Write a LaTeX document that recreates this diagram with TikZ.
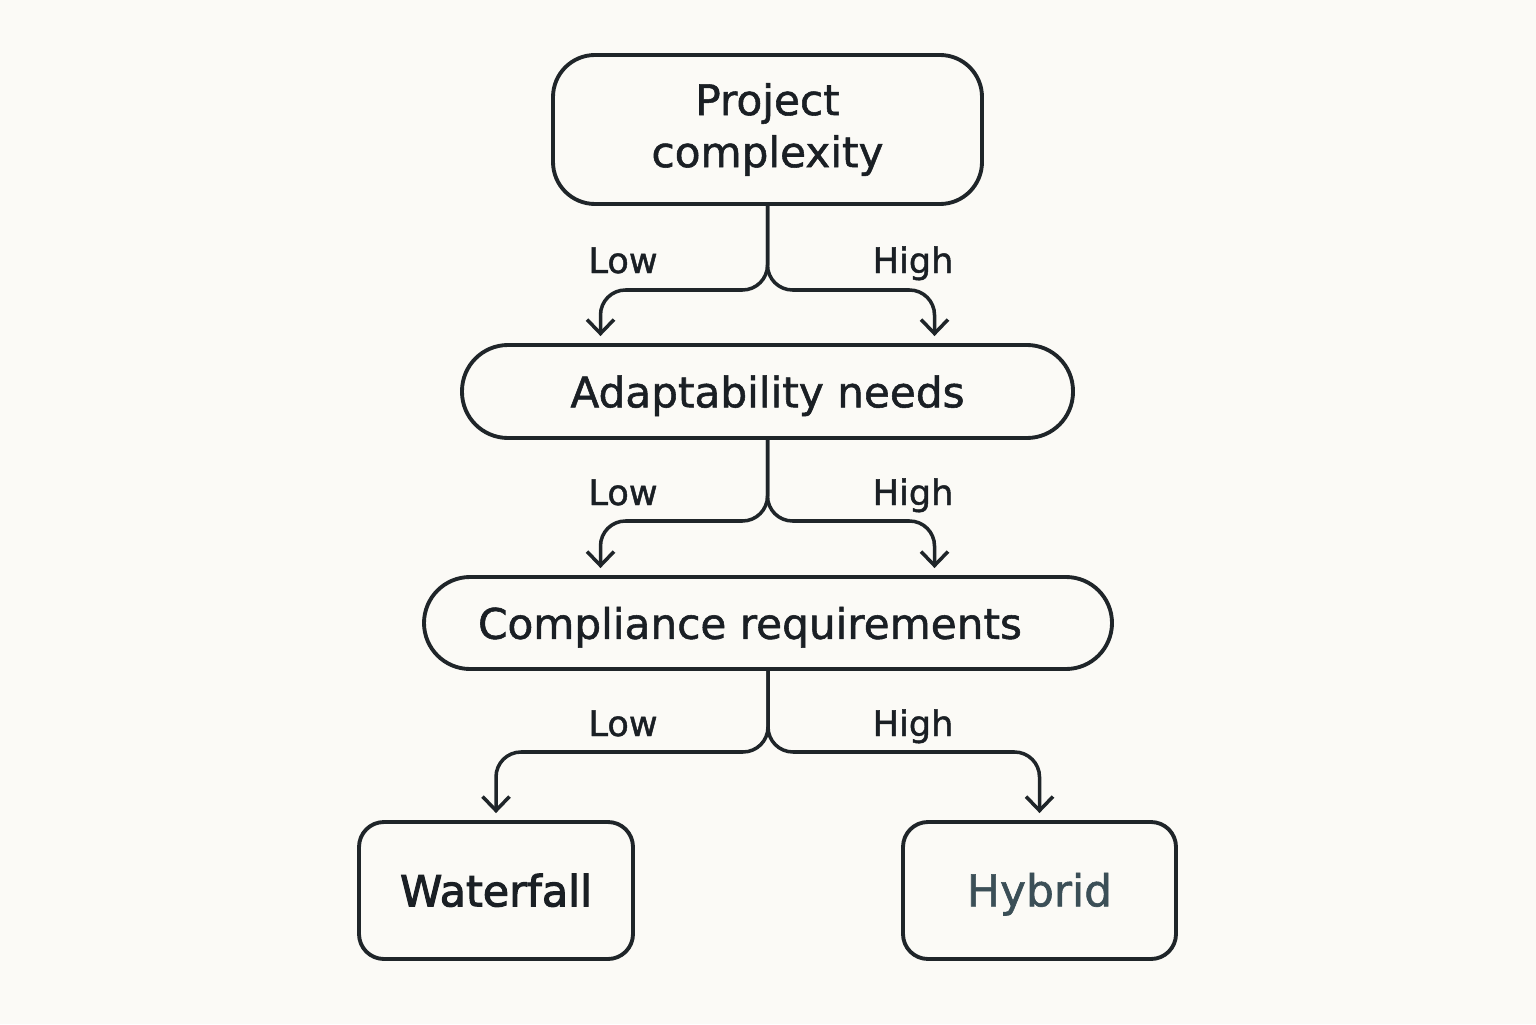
\documentclass[tikz,border=0pt]{standalone}
\usepackage{fontspec}
\setmainfont[FakeBold=1.3]{DejaVu Sans}
\newfontfamily\heavyfont[FakeBold=2.4]{DejaVu Sans}
\usetikzlibrary{arrows.meta}
\definecolor{bgpaper}{HTML}{FBFAF6}
\definecolor{inkline}{HTML}{1F2529}
\definecolor{inktext}{HTML}{1A1F24}
\definecolor{slatetext}{HTML}{3B4F57}
\begin{document}
\begin{tikzpicture}[
  box/.style={draw=inkline, line width=1.1pt, fill=bgpaper, text=inktext, align=center, inner sep=0pt},
  oneline/.style={text height=0.9em, text depth=0pt},
  flow/.style={draw=inkline, line width=1pt, rounded corners=0.25cm, -{Straight Barb[length=1.4mm, width=2.7mm, line width=1pt]}, shorten >=0.07cm},
  lbl/.style={text=inktext, anchor=base, font=\fontsize{10}{12}\selectfont}
]
\fill[bgpaper] (0,0) rectangle (15.36,10.24);
\useasboundingbox (0,0) rectangle (15.36,10.24);
\node[box, rounded corners=0.42cm, minimum width=4.29cm, minimum height=1.49cm, font=\fontsize{12}{14.8}\selectfont] (proj) at (7.675,8.945){Project\\complexity};
\node[box, oneline, rounded corners=0.46cm, minimum width=6.11cm, minimum height=0.93cm, font=\fontsize{12}{14.8}\selectfont] (adapt) at (7.675,6.325){Adaptability needs};
\node[box, oneline, rounded corners=0.46cm, minimum width=6.88cm, minimum height=0.92cm, font=\fontsize{12}{14.8}\selectfont] (compl) at (7.68,4.01){Compliance requirements\hspace*{0.36cm}};
\node[box, oneline, rounded corners=0.25cm, minimum width=2.74cm, minimum height=1.37cm, font=\heavyfont\fontsize{12.2}{14}\selectfont] (water) at (4.96,1.335){Waterfall};
\node[box, oneline, rounded corners=0.25cm, minimum width=2.73cm, minimum height=1.37cm, text=slatetext, font=\fontsize{12.5}{14}\selectfont] (hybrid) at (10.395,1.335){Hybrid};
\coordinate (jal) at (6.005,7.34);
\coordinate (jah) at (9.345,7.34);
\coordinate (jcl) at (6.005,5.03);
\coordinate (jch) at (9.345,5.03);
\coordinate (jwl) at (4.96,2.72);
\coordinate (jwh) at (10.395,2.72);
\draw[flow] (proj.south) |- (jal) -- (jal |- adapt.north);
\draw[flow] (proj.south) |- (jah) -- (jah |- adapt.north);
\draw[flow] (adapt.south) |- (jcl) -- (jcl |- compl.north);
\draw[flow] (adapt.south) |- (jch) -- (jch |- compl.north);
\draw[flow] (compl.south) |- (jwl) -- (water.north);
\draw[flow] (compl.south) |- (jwh) -- (hybrid.north);
\node[lbl] (low1) at (6.23,7.51){Low};
\node[lbl] (high1) at (9.13,7.51){High};
\node[lbl] (low2) at (6.23,5.19){Low};
\node[lbl] (high2) at (9.13,5.19){High};
\node[lbl] (low3) at (6.23,2.88){Low};
\node[lbl] (high3) at (9.13,2.88){High};
\end{tikzpicture}
\end{document}
